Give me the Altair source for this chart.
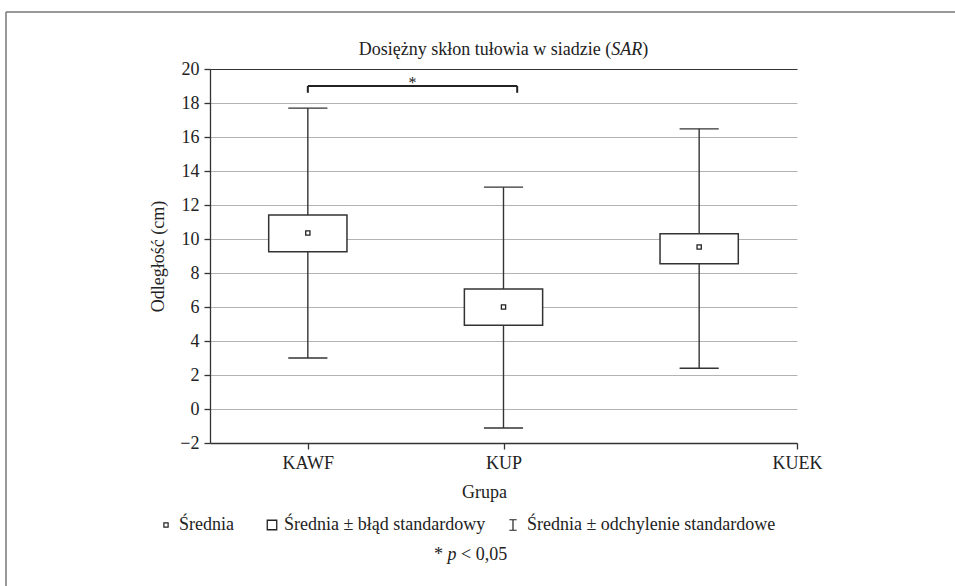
import json
import altair as alt
import pandas as pd

# ---------------- data ----------------
groups = ["KAWF", "KUP", "KUEK"]
means = [10.35, 6.0, 9.53]
se_low = [9.25, 4.92, 8.55]
se_high = [11.41, 7.06, 10.31]
sd_low = [3.0, -1.12, 2.4]
sd_high = [17.7, 13.05, 16.48]

y_ticks = [-2, 0, 2, 4, 6, 8, 10, 12, 14, 16, 18, 20]
x_tick_values = [0.5, 1.5, 3.0]
x_tick_labels = ["KAWF", "KUP", "KUEK"]

sig_pair = ["KAWF", "KUP"]
sig_level = [19.0]
sig_tip = [18.6]

# ---------------- style ----------------
FONT = "'Liberation Serif', 'Times New Roman', 'DejaVu Serif', serif"
FS = 18
INK = "#222222"
LINE = "#333333"
GRID = "#b3b3b3"
W, H = 587, 374
PL, PT = 210, 69

df = pd.DataFrame({
    "group": groups, "mean": means,
    "se_low": se_low, "se_high": se_high,
    "sd_low": sd_low, "sd_high": sd_high,
})

xscale = alt.Scale(domain=[0, 3], nice=False, zero=False)
yscale = alt.Scale(domain=[-2, 20], nice=False, zero=False)

label_expr = f"{json.dumps(x_tick_labels)}[indexof({json.dumps(x_tick_values)}, datum.value)]"

xaxis = alt.Axis(
    values=x_tick_values, labelExpr=label_expr, grid=False,
    domainColor=LINE, domainWidth=1.3, tickColor=LINE, tickWidth=1.3, tickSize=6,
    labelFont=FONT, labelFontSize=FS, labelColor=INK, labelPadding=5,
    labelFlush=False, labelOverlap=False,
    title="Grupa", titleFont=FONT, titleFontSize=FS, titleFontWeight="normal",
    titleColor=INK, titlePadding=11, titleX=274, titleAlign="center",
)
yaxis = alt.Axis(
    values=y_ticks, grid=True,
    gridColor=alt.condition("datum.value == 20", alt.value(LINE), alt.value(GRID)),
    gridWidth=1.1,
    domainColor=LINE, domainWidth=1.3, tickColor=LINE, tickWidth=1.3, tickSize=6,
    labelFont=FONT, labelFontSize=FS, labelColor=INK, labelPadding=5,
    labelFlush=False, labelOverlap=False,
    title="Odległość (cm)", titleFont=FONT, titleFontSize=FS, titleFontWeight="normal",
    titleColor=INK, titlePadding=12,
)


def X(f):
    return alt.X(f, type="quantitative", scale=xscale, axis=xaxis)


def Y(f):
    return alt.Y(f, type="quantitative", scale=yscale, axis=yaxis)


base = alt.Chart(df).transform_window(
    idx="row_number()"
).transform_calculate(
    pos="datum.idx - 0.5",
    box_l="datum.pos - 0.2", box_r="datum.pos + 0.2",
    cap_l="datum.pos - 0.1", cap_r="datum.pos + 0.1",
)

whisker = base.mark_rule(color=LINE, strokeWidth=1.4).encode(
    x=X("pos"), y=Y("sd_low"), y2="sd_high")
cap_hi = base.mark_rule(color=LINE, strokeWidth=1.4).encode(
    x=X("cap_l"), x2="cap_r", y=Y("sd_high"))
cap_lo = base.mark_rule(color=LINE, strokeWidth=1.4).encode(
    x=X("cap_l"), x2="cap_r", y=Y("sd_low"))
box = base.mark_rect(fill="white", stroke=LINE, strokeWidth=1.5).encode(
    x=X("box_l"), x2="box_r", y=Y("se_low"), y2="se_high")
mean_pt = base.mark_point(shape="square", filled=False, fill="white", fillOpacity=1,
                          stroke=INK, strokeWidth=1.3, size=18, opacity=1).encode(
    x=X("pos"), y=Y("mean"))

# significance bracket between KAWF and KUP
i0, i1 = groups.index(sig_pair[0]), groups.index(sig_pair[1])
br = pd.DataFrame({"x1": [i0 + 0.5], "x2": [i1 + 0.57], "lv": sig_level, "tip": sig_tip})
br_chart = alt.Chart(br)
br_h = br_chart.mark_rule(color=INK, strokeWidth=2).encode(x=X("x1"), x2="x2", y=Y("lv"))
br_l = br_chart.mark_rule(color=INK, strokeWidth=2).encode(x=X("x1"), y=Y("tip"), y2="lv")
br_r = br_chart.mark_rule(color=INK, strokeWidth=2).encode(x=X("x2"), y=Y("tip"), y2="lv")
br_star = br_chart.transform_calculate(mx="(datum.x1 + datum.x2) / 2", sy="datum.lv - 0.1").mark_text(
    text="*", font=FONT, fontSize=16, color=INK, baseline="alphabetic", align="center"
).encode(x=X("mx"), y=Y("sy"))

# ---------------- decorations (title, legend, frame) ----------------
one = alt.Chart(pd.DataFrame({"a": [0]}))


def txt(s, x, y, italic=False, align="left"):
    return one.mark_text(text=s, font=FONT, fontSize=FS, color=INK, align=align,
                         baseline="alphabetic",
                         fontStyle="italic" if italic else "normal").encode(
        x=alt.value(x), y=alt.value(y))


title_y = 55 - PT
t_start = 358.8 - PL
title = (txt("Dosiężny skłon tułowia w siadzie (", t_start, title_y)
         + txt("SAR", t_start + 252.5, title_y, italic=True)
         + txt(")", t_start + 283.5, title_y))

leg_y = 530 - PT
sym_y = 525 - PT
sym_small = one.mark_point(shape="square", filled=False, fill="white", fillOpacity=1,
                           stroke=INK, strokeWidth=1.2, size=18, opacity=1).encode(
    x=alt.value(166 - PL), y=alt.value(sym_y))
sym_big = one.mark_point(shape="square", filled=False, stroke=INK, strokeWidth=1.3,
                         size=90, opacity=1).encode(
    x=alt.value(272 - PL), y=alt.value(sym_y))
sym_beam = one.mark_point(shape="M-0.7,-1H0.7M0,-1V1M-0.7,1H0.7", filled=False,
                          stroke=INK, strokeWidth=1.2, size=110, opacity=1).encode(
    x=alt.value(513 - PL), y=alt.value(sym_y))
legend = (sym_small + txt("Średnia", 179 - PL, leg_y)
          + sym_big + txt("Średnia ± błąd standardowy", 284 - PL, leg_y)
          + sym_beam + txt("Średnia ± odchylenie standardowe", 527 - PL, leg_y))

p_y = 560 - PT
p_start = 434 - PL
pnote = (txt("*", p_start, p_y) + txt("p", p_start + 13.5, p_y, italic=True)
         + txt("< 0,05", p_start + 27.0, p_y))

frame_top = one.mark_rule(color="#777777", strokeWidth=1.5).encode(
    x=alt.value(6 - PL), x2=alt.value(960 - PL), y=alt.value(12 - PT))
frame_left = one.mark_rule(color="#777777", strokeWidth=1.5).encode(
    x=alt.value(6 - PL), y=alt.value(12 - PT), y2=alt.value(590 - PT))

chart = alt.layer(
    whisker, cap_hi, cap_lo, box, mean_pt,
    br_h, br_l, br_r, br_star,
    title, legend, pnote, frame_top, frame_left,
).properties(
    width=W, height=H,
    autosize=alt.AutoSizeParams(type="none"),
    padding={"left": PL, "top": PT, "right": 955 - PL - W, "bottom": 586 - PT - H},
    background="white",
).configure_view(stroke=None)

chart.save("out.html", embed_options={"renderer": "svg", "actions": False})
